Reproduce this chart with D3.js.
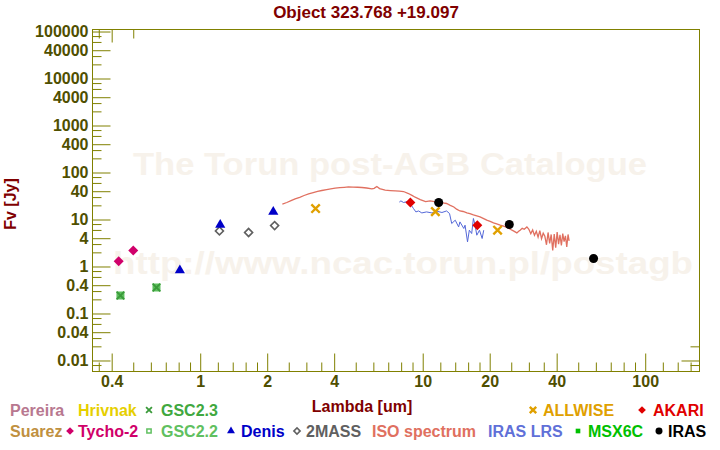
<!DOCTYPE html>
<html><head><meta charset="utf-8">
<script src="https://cdn.jsdelivr.net/npm/d3@7"></script>
<style>
body{margin:0;background:#fff}
svg{display:block}
text{font-family:"Liberation Sans",Arial,Helvetica,sans-serif;font-weight:bold}
</style>
</head><body>
<svg id="c" width="720" height="450"></svg>
<script>
// ---------- data ----------
const titleText = "Object 323.768 +19.097";
const xLabel = "Lambda [um]";
const yLabel = "Fv [Jy]";
const xTickLabels = [0.4, 1, 2, 4, 10, 20, 40, 100];
const xMinorTicks = [0.35, 0.5, 0.6, 0.7, 0.8, 0.9, 1.2, 1.4, 1.6, 1.8, 2.5, 3, 3.5, 5, 6, 7, 8, 9,
  12, 14, 16, 18, 25, 30, 35, 50, 60, 70, 80, 90, 120, 140, 160];
const yTickLabels = [100000, 40000, 10000, 4000, 1000, 400, 100, 40, 10, 4, 1, 0.4, 0.1, 0.04, 0.01];
const yMinorTicks = [80000, 60000, 30000, 20000, 8000, 6000, 3000, 2000, 800, 600, 300, 200,
  80, 60, 30, 20, 8, 6, 3, 2, 0.8, 0.6, 0.3, 0.2, 0.08, 0.06, 0.03, 0.02, 0.008];
const topMinorTicks = [0.35, 0.5];
const topMajorTicks = [0.4];
const rightMinorTicks = [0.008, 0.02];
const rightMajorTicks = [0.01];

const tychoLam = [0.43, 0.50];          const tychoF = [1.30, 2.19];
const gscLam = [0.438, 0.636];          const gscF = [0.241, 0.357];
const denisLam = [0.81, 1.23, 2.13];    const denisF = [0.83, 7.7, 14.5];
const twomassLam = [1.22, 1.65, 2.16];  const twomassF = [5.72, 5.29, 7.45];
const allwiseLam = [3.30, 11.4, 21.7];  const allwiseF = [17.1, 14.7, 5.92];
const akariLam = [8.8, 17.6];           const akariF = [23.0, 7.56];
const irasLam = [11.8, 24.5, 58.6];     const irasF = [23.0, 7.83, 1.48];

const isoLam = [2.34, 2.45, 2.56, 2.67, 2.80, 2.93, 3.07, 3.22, 3.37, 3.52, 3.70, 3.86, 4.04, 4.24, 4.44, 4.64, 4.86, 5.10, 5.33, 5.60, 5.91, 6.05, 6.22, 6.40, 6.78, 7.15, 7.52, 7.85, 8.20, 8.63, 8.95, 9.25, 9.75, 10.3, 10.8, 11.3, 11.8, 12.3, 12.8, 13.3, 13.8, 14.2, 14.7, 15.2, 15.8, 16.3, 16.9, 17.5, 18.1, 18.7, 19.4, 20.1, 20.8, 21.5, 22.3, 23.1, 23.9, 24.5, 25.2, 25.8, 26.5, 27.0, 27.4, 28.0, 28.6, 29.4,
  30.0, 30.6, 31.2, 31.8, 32.4, 33.0, 33.6, 34.2, 34.8, 35.4, 36.0, 36.6, 37.2, 37.8, 38.4, 39.0, 39.6, 40.2, 40.8, 41.4, 42.0, 42.6, 43.2, 43.8, 44.4, 45.0, 45.5];
const isoF = [21.2, 23.0, 25.2, 27.4, 29.6, 32.4, 35.1, 37.3, 39.6, 41.4, 43.4, 45.0, 46.3, 47.6, 48.4, 49.4, 49.0, 48.6, 48.0, 46.8, 44.8, 46.0, 50.4, 45.5, 42.0, 41.2, 40.6, 40.2, 39.4, 35.7, 32.6, 29.8, 26.6, 24.1, 24.9, 23.9, 23.4, 22.5, 21.9, 20.0, 18.5, 16.6, 15.2, 14.8, 13.8, 13.3, 12.5, 12.0, 11.4, 10.6, 9.67, 9.1, 8.47, 8.1, 7.57, 7.2, 6.76, 6.4, 5.92, 5.6, 5.19, 5.6, 5.92, 6.5, 6.2, 6.96,
  6.2, 5.0, 6.0, 4.6, 5.6, 4.2, 5.8, 3.9, 5.1, 4.4, 2.9, 5.3, 3.1, 4.8, 2.2, 4.9, 2.5, 5.4, 3.0, 4.7, 2.8, 5.0, 3.4, 4.5, 2.6, 4.8, 3.5];

const lrsLam = [7.85, 7.98, 8.20, 8.50, 8.80, 9.09, 9.32, 9.58, 9.91, 10.4, 11.0, 11.6, 12.2, 12.8, 13.2, 13.5, 14.0, 14.5, 14.7, 15.3, 15.5, 15.9, 16.2, 16.6, 16.9, 17.2, 17.5, 18.0, 18.5, 18.8];
const lrsF = [23.5, 24.9, 23.0, 24.0, 21.5, 17.1, 14.5, 15.2, 13.8, 14.5, 13.8, 15.0, 14.1, 15.2, 13.4, 8.22, 9.67, 6.96, 8.89, 6.44, 7.57, 3.34, 5.92, 5.03, 10.5, 7.57, 4.63, 5.92, 3.94, 5.92];

// ---------- layout ----------
const W = 720, H = 450;
const plot = {left: 92.5, right: 699.5, top: 29.5, bottom: 371.5};
const svg = d3.select("#c");
const olive = "#808000", labelCol = "#4f4f00", darkRed = "#800000";

const x = d3.scaleLog().domain([0.328, 175.4]).range([plot.left, plot.right]);
const y = d3.scaleLog().domain([0.00583, 110400]).range([plot.bottom, plot.top]);

// watermark
svg.append("text").attr("x", 133).attr("y", 175).attr("textLength", 514).attr("lengthAdjust", "spacingAndGlyphs")
  .attr("font-size", 32).attr("fill", "#f7f2eb").text("The Torun post-AGB Catalogue");
svg.append("text").attr("x", 113).attr("y", 274).attr("textLength", 580).attr("lengthAdjust", "spacingAndGlyphs")
  .attr("font-size", 32).attr("fill", "#f7f2eb").text("http://www.ncac.torun.pl/postagb");

// title
svg.append("text").attr("x", 366).attr("y", 18).attr("text-anchor", "middle")
  .attr("font-size", 17).attr("fill", darkRed).text(titleText);

// frame
svg.append("rect").attr("x", plot.left).attr("y", plot.top)
  .attr("width", plot.right - plot.left).attr("height", plot.bottom - plot.top)
  .attr("fill", "none").attr("stroke", olive).attr("stroke-width", 1);

function styleAxis(g) {
  g.select(".domain").remove();
  g.selectAll("line").attr("stroke", olive);
  g.selectAll("text").attr("fill", labelCol).attr("font-size", 16)
    .attr("font-family", "Liberation Sans, Arial, sans-serif").attr("font-weight", "bold");
}
const fmt = d => String(d);

// left axis
svg.append("g").attr("transform", `translate(${plot.left},0)`)
  .call(d3.axisLeft(y).tickValues(yTickLabels).tickFormat(fmt).tickSizeInner(-18).tickSizeOuter(0).tickPadding(4))
  .call(styleAxis);
svg.append("g").attr("transform", `translate(${plot.left},0)`)
  .call(d3.axisLeft(y).tickValues(yMinorTicks).tickFormat("").tickSizeInner(-9).tickSizeOuter(0))
  .call(styleAxis);
// bottom axis
svg.append("g").attr("transform", `translate(0,${plot.bottom})`)
  .call(d3.axisBottom(x).tickValues(xTickLabels).tickFormat(fmt).tickSizeInner(-18).tickSizeOuter(0).tickPadding(4))
  .call(styleAxis);
svg.append("g").attr("transform", `translate(0,${plot.bottom})`)
  .call(d3.axisBottom(x).tickValues(xMinorTicks).tickFormat("").tickSizeInner(-9).tickSizeOuter(0))
  .call(styleAxis);
// partial top / right ticks
svg.append("g").attr("transform", `translate(0,${plot.top})`)
  .call(d3.axisTop(x).tickValues(topMinorTicks).tickFormat("").tickSizeInner(-9).tickSizeOuter(0)).call(styleAxis);
svg.append("g").attr("transform", `translate(0,${plot.top})`)
  .call(d3.axisTop(x).tickValues(topMajorTicks).tickFormat("").tickSizeInner(-13).tickSizeOuter(0)).call(styleAxis);
svg.append("g").attr("transform", `translate(${plot.right},0)`)
  .call(d3.axisRight(y).tickValues(rightMinorTicks).tickFormat("").tickSizeInner(-9).tickSizeOuter(0)).call(styleAxis);
svg.append("g").attr("transform", `translate(${plot.right},0)`)
  .call(d3.axisRight(y).tickValues(rightMajorTicks).tickFormat("").tickSizeInner(-18).tickSizeOuter(0)).call(styleAxis);

// axis titles
svg.append("text").attr("x", 362).attr("y", 412).attr("text-anchor", "middle")
  .attr("font-size", 16).attr("fill", darkRed).text(xLabel);
svg.append("text").attr("transform", "translate(16,204) rotate(-90)").attr("text-anchor", "middle")
  .attr("font-size", 16).attr("fill", darkRed).text(yLabel);

// lines
const line = d3.line().x(d => x(d[0])).y(d => y(d[1]));
svg.append("path").datum(d3.zip(isoLam, isoF)).attr("d", line)
  .attr("fill", "none").attr("stroke", "#e07060").attr("stroke-width", 1.3);
svg.append("path").datum(d3.zip(lrsLam, lrsF)).attr("d", line)
  .attr("fill", "none").attr("stroke", "#5468d8").attr("stroke-width", 1);

// markers
const sym = (type, size) => d3.symbol().type(type).size(size)();
function markers(lam, F, opts) {
  svg.append("g").selectAll("path").data(d3.zip(lam, F)).join("path")
    .attr("transform", d => `translate(${x(d[0])},${y(d[1])}) rotate(${opts.rot || 0})`)
    .attr("d", sym(opts.type, opts.size))
    .attr("fill", opts.fill || "none").attr("stroke", opts.stroke || "none")
    .attr("stroke-width", opts.sw || 0);
}
const M = {
  tycho:   {type: d3.symbolSquare, size: 50, rot: 45, fill: "#d0006a"},
  gsc22:   {type: d3.symbolSquare, size: 42, fill: "#5cbf5c", stroke: "#5cbf5c", sw: 1.5},
  gsc23:   {type: d3.symbolX, size: 40, stroke: "#3a9a3a", sw: 1.8},
  denis:   {type: d3.symbolTriangle, size: 45, fill: "#0000c8"},
  twomass: {type: d3.symbolSquare, size: 32, rot: 45, stroke: "#606060", sw: 1.6},
  allwise: {type: d3.symbolX, size: 48, stroke: "#e0a000", sw: 2.4},
  akari:   {type: d3.symbolSquare, size: 50, rot: 45, fill: "#e00000"},
  iras:    {type: d3.symbolCircle, size: 64, fill: "#000000"},
  msx:     {type: d3.symbolSquare, size: 36, fill: "#00c000"}
};
markers(gscLam, gscF, M.gsc22);
markers(gscLam, gscF, M.gsc23);
markers(tychoLam, tychoF, M.tycho);
markers(twomassLam, twomassF, M.twomass);
markers(denisLam, denisF, M.denis);
markers(allwiseLam, allwiseF, M.allwise);
markers(akariLam, akariF, M.akari);
markers(irasLam, irasF, M.iras);

// legend
const legendRow1 = [
  {name: "Pereira", color: "#b87890", tx: 10},
  {name: "Hrivnak", color: "#e6cf00", tx: 78},
  {name: "GSC2.3", color: "#40a840", tx: 161, mk: M.gsc23, mx: 149},
  {name: "ALLWISE", color: "#e0a000", tx: 543, mk: M.allwise, mx: 533},
  {name: "AKARI", color: "#e00000", tx: 653, mk: M.akari, mx: 642}
];
const legendRow2 = [
  {name: "Suarez", color: "#c09040", tx: 10},
  {name: "Tycho-2", color: "#d0006a", tx: 78, mk: M.tycho, mx: 70},
  {name: "GSC2.2", color: "#60c060", tx: 161, mk: {type: d3.symbolSquare, size: 30, stroke: "#60c060", sw: 1.5}, mx: 149},
  {name: "Denis", color: "#0000c8", tx: 241, mk: M.denis, mx: 231},
  {name: "2MASS", color: "#606060", tx: 306, mk: M.twomass, mx: 297},
  {name: "ISO spectrum", color: "#e07060", tx: 372},
  {name: "IRAS LRS", color: "#6070d8", tx: 488},
  {name: "MSX6C", color: "#00c000", tx: 588, mk: M.msx, mx: 578},
  {name: "IRAS", color: "#000000", tx: 668, mk: M.iras, mx: 659}
];
function legendRow(items, baseline) {
  items.forEach(it => {
    svg.append("text").attr("x", it.tx).attr("y", baseline).attr("font-size", 16)
      .attr("fill", it.color).text(it.name);
    if (it.mk) {
      const s = Object.assign({}, it.mk, {size: it.mk.size * 0.6});
      svg.append("path").attr("transform", `translate(${it.mx},${baseline - 6}) rotate(${s.rot || 0})`)
        .attr("d", sym(s.type, s.size)).attr("fill", s.fill || "none")
        .attr("stroke", s.stroke || "none").attr("stroke-width", s.sw || 0);
    }
  });
}
legendRow(legendRow1, 416);
legendRow(legendRow2, 437);
</script>
</body></html>
